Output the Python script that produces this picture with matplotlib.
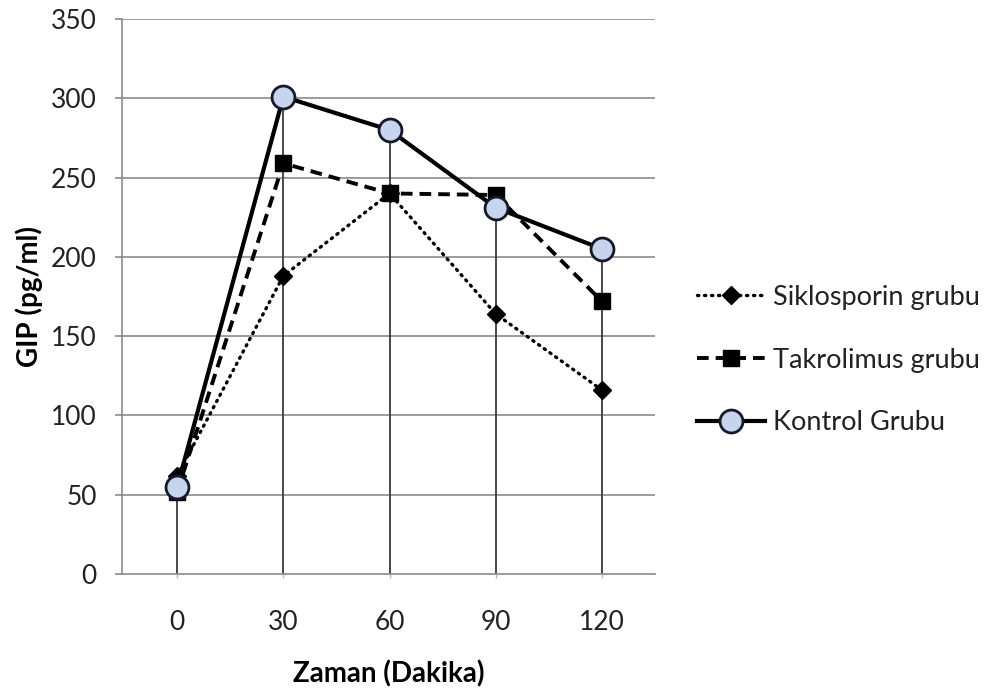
import numpy as np
import matplotlib
matplotlib.use('Agg')
import matplotlib.pyplot as plt

plt.rcParams['font.family'] = ['Lato', 'DejaVu Sans']

zaman = ['0', '30', '60', '90', '120']
siklosporin = [62, 188, 240, 164, 116]
takrolimus = [52, 259, 240, 239, 172]
kontrol = [55, 301, 280, 231, 205]

x = np.arange(len(zaman))

fig = plt.figure(figsize=(9.95, 6.93), dpi=100)
ax = fig.add_axes([0.1226, 0.1717, 0.5357, 0.8009])

# grid
for v in range(50, 351, 50):
    ax.axhline(v, color='#8a8a8a', lw=1.2, zorder=0)

# drop lines from the top point down to the axis
tepe = np.max([siklosporin, takrolimus, kontrol], axis=0)
ax.vlines(x, 0, tepe, color='#3a3a3a', lw=1.3, zorder=1)

ax.plot(x, siklosporin, color='black', lw=2.4, ls=(0, (0.4, 1.7)), dash_capstyle='round',
        marker='D', ms=9.5, mfc='black', mec='black', label='Siklosporin grubu', zorder=3)
ax.plot(x, takrolimus, color='black', lw=2.8, ls=(0, (3.0, 1.8)),
        marker='s', ms=12, mfc='black', mec='black', label='Takrolimus grubu', zorder=4)
ax.plot(x, kontrol, color='black', lw=3.0,
        marker='o', ms=16.5, mfc='#c6d4ee', mec='#141a2a', mew=2, label='Kontrol Grubu', zorder=5)

ax.set_xlim(-0.52, 4.5)
ax.set_ylim(0, 350)
ax.set_yticks(range(0, 351, 50))
ax.set_xticks(x)
ax.set_xticklabels(zaman)

for s in ['top', 'right']:
    ax.spines[s].set_visible(False)
ax.spines['left'].set_color('#8a8a8a')
ax.spines['bottom'].set_color('#8a8a8a')
ax.spines['left'].set_linewidth(1.2)
ax.spines['bottom'].set_linewidth(1.2)

ax.tick_params(axis='y', length=5, color='#8a8a8a', width=1.2, pad=13, labelsize=19, labelcolor='#222222')
ax.tick_params(axis='x', length=3, color='#bbbbbb', width=1, pad=23, labelsize=19, labelcolor='#222222')

ax.set_ylabel('GIP (pg/ml)', fontsize=20, fontweight='bold', labelpad=6)
ax.set_xlabel('Zaman (Dakika)', fontsize=20, fontweight='bold', labelpad=18)

leg = ax.legend(loc='center left', bbox_to_anchor=(0.701, 0.4805), bbox_transform=fig.transFigure,
                frameon=False, fontsize=19.5, handlelength=2.5, handletextpad=0.3, labelspacing=1.4,
                borderpad=0, borderaxespad=0)
for t in leg.get_texts():
    t.set_color('#222222')

fig.savefig('out.png', dpi=100)
